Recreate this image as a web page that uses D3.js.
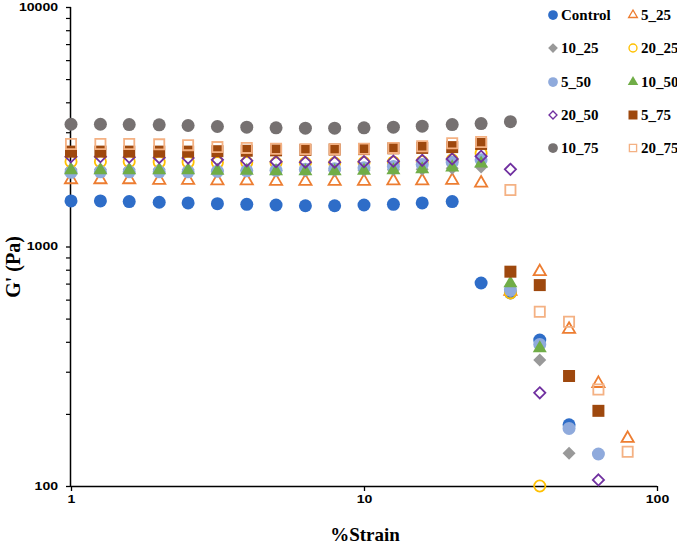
<!DOCTYPE html>
<html><head><meta charset="utf-8">
<script src="https://cdn.jsdelivr.net/npm/d3@7"></script>
<style>
html,body{margin:0;padding:0;background:#fff;}
svg{display:block;}
</style></head>
<body>
<svg id="chart" width="677" height="546"></svg>
<script>
const strain = [1,1.26,1.58,2,2.51,3.16,3.98,5.01,6.31,7.94,10,12.6,15.8,20,25.1,31.6,39.8,50.1,63.1,79.4];
const control = [1550,1550,1540,1530,1520,1510,1500,1490,1480,1480,1490,1500,1520,1540,704,640,407,180,null,null];
const s5_25  = [1900,1900,1900,1890,1890,1880,1880,1870,1870,1870,1870,1880,1880,1890,1840,650,785,451,268,158];
const s10_25 = [2100,2100,2100,2100,2090,2080,2080,2070,2070,2070,2080,2090,2100,2120,2150,650,336,137,null,null];
const s20_25 = [2260,2260,2260,2250,2250,2240,2240,2230,2230,2230,2240,2250,2260,2300,2450,640,100,null,null,null];
const s5_50  = [2040,2050,2050,2050,2050,2060,2070,2080,2100,2110,2130,2160,2200,2250,2300,658,390,174,136,null];
const s10_50 = [2080,2080,2080,2080,2080,2070,2070,2060,2060,2060,2070,2080,2100,2140,2220,702,376,null,null,null];
const s20_50 = [2370,2370,2360,2350,2340,2300,2280,2260,2250,2250,2260,2270,2290,2320,2380,2100,245,null,106,null];
const s5_75  = [2490,2490,2490,2490,2490,2500,2510,2520,2530,2540,2550,2570,2580,2600,2680,785,690,288,206,null];
const s10_75 = [3240,3240,3230,3220,3200,3170,3150,3130,3120,3120,3130,3150,3180,3230,3260,3320,null,null,null,null];
const s20_75 = [2680,2680,2680,2670,2650,2600,2580,2560,2550,2550,2560,2580,2620,2700,2730,1722,534,485,253,139];

const seriesNames = ["Control","5_25","10_25","20_25","5_50","10_50","20_50","5_75","10_75","20_75"];
const seriesValues = [control,s5_25,s10_25,s20_25,s5_50,s10_50,s20_50,s5_75,s10_75,s20_75];
const xTicks = [1,10,100];
const yTicks = [100,1000,10000];
const xTitle = "%Strain";
const yTitle = "G' (Pa)";

const styles = {
  "Control":{shape:"circle",fill:"#2E6DC8",stroke:null},
  "5_25":{shape:"triangle",fill:"none",stroke:"#ED7D31"},
  "10_25":{shape:"diamond",fill:"#999999",stroke:null},
  "20_25":{shape:"circle",fill:"none",stroke:"#FFC000"},
  "5_50":{shape:"circle",fill:"#8FAADC",stroke:null},
  "10_50":{shape:"triangle",fill:"#70AD47",stroke:null},
  "20_50":{shape:"diamond",fill:"none",stroke:"#7030A0"},
  "5_75":{shape:"square",fill:"#9E480E",stroke:null},
  "10_75":{shape:"circle",fill:"#767171",stroke:null},
  "20_75":{shape:"square",fill:"none",stroke:"#F4B183"}
};

const svg = d3.select("#chart");
const pLeft = 71, pRight = 657, pTop = 7, pBottom = 486;
const x = d3.scaleLog().domain([1,100]).range([pLeft,pRight]);
const y = d3.scaleLog().domain([100,10000]).range([pBottom,pTop]);

function symbolPath(shape, s){
  if(shape==="circle") return d3.symbol(d3.symbolCircle, Math.PI*(s/2)*(s/2))();
  if(shape==="square") return d3.symbol(d3.symbolSquare, s*s)();
  if(shape==="triangle") return d3.symbol(d3.symbolTriangle, s*s*Math.sqrt(3)/4)();
  if(shape==="diamond"){ const h=s/2; return `M0,${-h}L${h},0L0,${h}L${-h},0Z`; }
}
function drawMarker(g, name, cx, cy, scale){
  const st = styles[name];
  const base = {circle:13, square:12, triangle:14, diamond:13}[st.shape]*scale;
  const open = st.fill==="none";
  const sz = open ? base-1.8 : base;
  g.append("path")
    .attr("d", symbolPath(st.shape, sz))
    .attr("transform", `translate(${cx},${cy})`)
    .attr("fill", open ? "none" : st.fill)
    .attr("stroke", open ? st.stroke : "none")
    .attr("stroke-width", open ? 1.8*scale : 0);
}

// axes
const axisG = svg.append("g");
const xAxis = d3.axisBottom(x).tickValues(xTicks).tickSize(5).tickFormat(d3.format("d"));
const gx = axisG.append("g").attr("transform",`translate(0,${pBottom})`).call(xAxis);
gx.select(".domain").attr("d",`M${pLeft},0.5H${pRight}`).attr("stroke","#000").attr("stroke-width",1.5);
gx.selectAll(".tick line").attr("stroke","#000").attr("stroke-width",1.3);
gx.selectAll(".tick text")
  .attr("y",10).attr("dy","0.71em")
  .attr("font-family","'Liberation Sans', Arial, sans-serif").attr("font-weight","bold").attr("font-size",10)
  .attr("fill","#000")
  .attr("textLength", function(d){return String(d).length*7.8;})
  .attr("lengthAdjust","spacingAndGlyphs");

const yMinor = [];
for(const dec of [100,1000]) for(let k=2;k<=9;k++) yMinor.push(dec*k);
const gyMinor = axisG.append("g").attr("transform",`translate(${pLeft},0)`)
  .call(d3.axisLeft(y).tickValues(yMinor).tickSize(5).tickFormat(""));
gyMinor.select(".domain").remove();
gyMinor.selectAll(".tick line").attr("stroke","#000").attr("stroke-width",1.2);

const yAxis = d3.axisLeft(y).tickValues(yTicks).tickSize(5).tickFormat(d3.format("d"));
const gy = axisG.append("g").attr("transform",`translate(${pLeft},0)`).call(yAxis);
gy.select(".domain").attr("d",`M-0.5,${pTop}V${pBottom}`).attr("stroke","#000").attr("stroke-width",1.5);
gy.selectAll(".tick line").attr("stroke","#000").attr("stroke-width",1.3);
gy.selectAll(".tick text")
  .attr("x",-13)
  .attr("font-family","'Liberation Sans', Arial, sans-serif").attr("font-weight","bold").attr("font-size",10)
  .attr("fill","#000")
  .attr("textLength", function(d){return String(d).length*7.8;})
  .attr("lengthAdjust","spacingAndGlyphs");

// points
const plotG = svg.append("g");
seriesNames.forEach((name,i)=>{
  const vals = seriesValues[i];
  const g = plotG.append("g");
  strain.forEach((s,j)=>{
    const v = vals[j];
    if(v==null) return;
    drawMarker(g, name, x(s), y(v), 1);
  });
});

// titles
svg.append("text").attr("x",365).attr("y",541).attr("text-anchor","middle")
  .attr("font-family","'Liberation Serif','Times New Roman',serif").attr("font-weight","bold")
  .attr("font-size",19).text(xTitle);
svg.append("text").attr("transform","translate(20,267) rotate(-90)").attr("text-anchor","middle")
  .attr("font-family","'Liberation Serif','Times New Roman',serif").attr("font-weight","bold")
  .attr("font-size",20).text(yTitle);

// legend
const legG = svg.append("g");
const rowsY = [15,48,82,115,148];
const colMX = [553,633];
seriesNames.forEach((name,i)=>{
  const r = Math.floor(i/2), c = i%2;
  drawMarker(legG, name, colMX[c], rowsY[r], 0.75);
  legG.append("text").attr("x",colMX[c]+8).attr("y",rowsY[r]).attr("dy","0.35em")
    .attr("font-family","'Liberation Serif','Times New Roman',serif").attr("font-weight","bold")
    .attr("font-size",15).text(name);
});
</script>
</body></html>
